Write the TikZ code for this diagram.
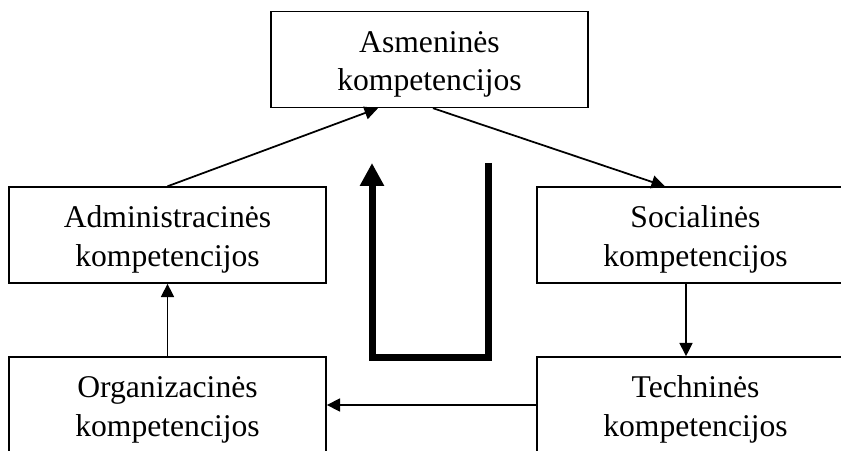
\documentclass[tikz,border=0pt]{standalone}
\usepackage{fontspec}
\setmainfont{Liberation Serif}
\usetikzlibrary{positioning,arrows.meta}

\begin{document}
\begin{tikzpicture}[
        scale=1,
        box/.style={draw,line width=0.8pt,minimum width=6.34cm,minimum height=1.92cm,inner sep=0pt,align=center,
            text height=1.45cm,text depth=0.2cm,font=\fontsize{18}{22}\selectfont},
        arr/.style={line width=1pt,-{Triangle[length=0.27cm,width=0.26cm]}},
        big/.style={line width=0.14cm,-{Triangle[length=0.46cm,width=0.46cm]}}
    ]
    \useasboundingbox (0,0) rectangle (16.82,9);
    \node[box] (A) at (8.59,7.81){Asmeninės\\kompetencijos};
    \node[box] (D) at (3.35,4.3){Administracinės\\kompetencijos};
    \node[box] (S) at (13.91,4.3){Socialinės\\kompetencijos};
    \node[box] (O) at (3.35,0.9){Organizacinės\\kompetencijos};
    \node[box] (T) at (13.91,0.9){Techninės\\kompetencijos};
    \draw[arr] (D.north) -- ([xshift=-1.03cm]A.south);
    \draw[arr] ([xshift=0.07cm]A.south) -- ([xshift=-0.61cm]S.north);
    \draw[arr] ([xshift=-0.19cm]S.south) -- ([xshift=-0.19cm]T.north);
    \draw[arr] (T.west) -- (O.east);
    \draw[arr] (O.north) -- (D.south);
    \coordinate (u1) at (9.76,5.74);
    \coordinate (u2) at (9.76,1.85);
    \coordinate (u3) at (7.44,1.85);
    \coordinate (u4) at (7.44,5.74);
    \draw[big] (u1) -- (u2) -- (u3) -- (u4);
\end{tikzpicture}
\end{document}
